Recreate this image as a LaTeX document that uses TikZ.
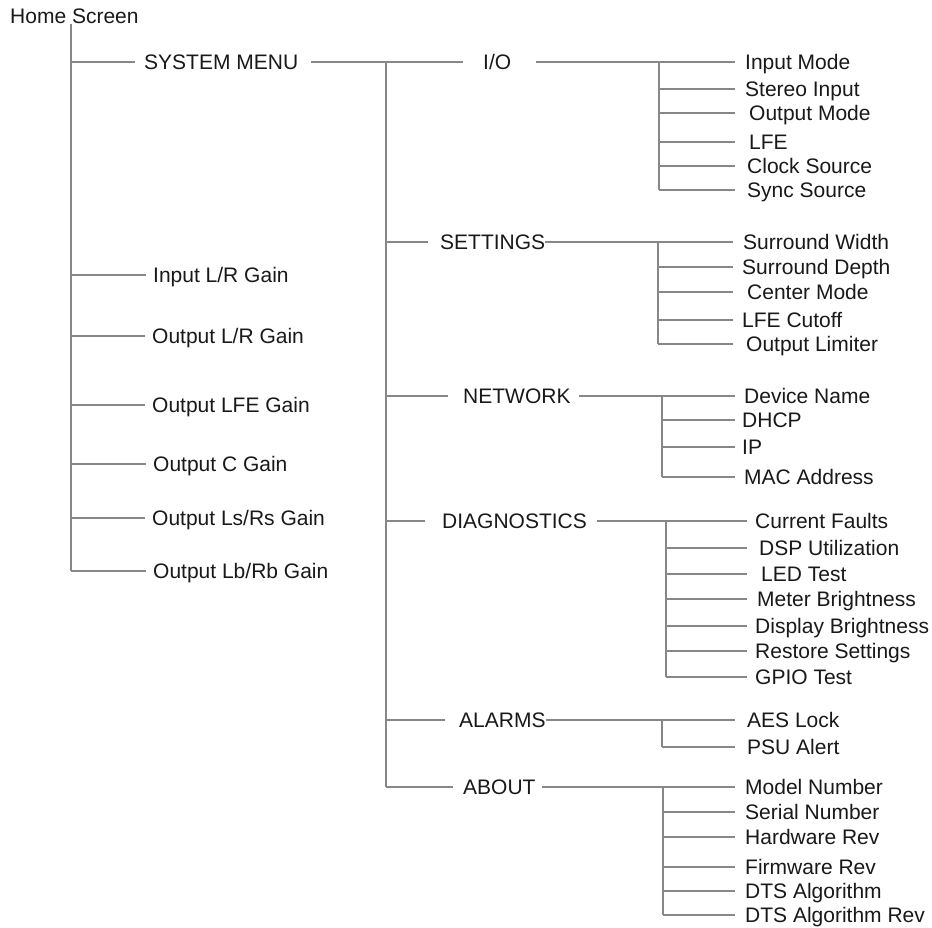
\documentclass[tikz,border=0pt]{standalone}
\usepackage{fontspec}
\setmainfont{Liberation Sans}
\definecolor{linegray}{RGB}{135,135,135}
\definecolor{txt}{RGB}{25,25,25}
\begin{document}
\begin{tikzpicture}[x=1pt,y=-1pt,
  lbl/.style={anchor=west,inner xsep=0pt,inner ysep=0pt,text height=15pt,text depth=0pt,
    text=txt,font=\fontsize{21pt}{25pt}\selectfont},
  conn/.style={draw=linegray,line width=1.3pt}]
\useasboundingbox (0,0) rectangle (932,927);
\fill[white] (0,0) rectangle (932,927);

% ---- level 0/1
\node[lbl] (home) at (10,16) {Home Screen};
\coordinate (v1) at (71,24);
\node[lbl] (sys)  at (144,62) {SYSTEM MENU};
\node[lbl] (inlr) at (153,275) {Input L/R Gain};
\node[lbl] (outlr) at (152,336) {Output L/R Gain};
\node[lbl] (outlfe) at (152,405) {Output LFE Gain};
\node[lbl] (outc) at (153,464) {Output C Gain};
\node[lbl] (outls) at (152,518) {Output Ls/Rs Gain};
\node[lbl] (outlb) at (153,571) {Output Lb/Rb Gain};

\draw[conn] (v1) -- (v1 |- outlb);
\draw[conn] (v1 |- sys) -- ([xshift=-9pt]sys.west);
\foreach \n in {inlr,outlr,outlfe,outc,outls,outlb}
  \draw[conn] (v1 |- \n) -- ([xshift=-7pt]\n.west);

% ---- level 2
\coordinate (v2) at (386,62);
\node[lbl] (io)   at (483,62)  {I/O};
\node[lbl] (set)  at (440,242) {SETTINGS};
\node[lbl] (net)  at (463,396) {NETWORK};
\node[lbl] (diag) at (442,521) {DIAGNOSTICS};
\node[lbl] (alm)  at (459,720) {ALARMS};
\node[lbl] (abt)  at (463,787) {ABOUT};

\draw[conn] ([xshift=13pt]sys.east) -- (v2);
\draw[conn] (v2) -- (v2 |- abt);
\draw[conn] (v2 |- io)   -- ([xshift=-20pt]io.west);
\draw[conn] (v2 |- set)  -- ([xshift=-12pt]set.west);
\draw[conn] (v2 |- net)  -- ([xshift=-15pt]net.west);
\draw[conn] (v2 |- diag) -- ([xshift=-17pt]diag.west);
\draw[conn] (v2 |- alm)  -- ([xshift=-14pt]alm.west);
\draw[conn] (v2 |- abt)  -- ([xshift=-10pt]abt.west);

% ---- I/O
\coordinate (ioV) at (659,62); \coordinate (ioE) at (735,62);
\node[lbl] (im)  at (745,62)  {Input Mode};
\node[lbl] (st)  at (745,89)  {Stereo Input};
\node[lbl] (om)  at (749,113) {Output Mode};
\node[lbl] (lfe) at (749,142) {LFE};
\node[lbl] (cs)  at (747,166) {Clock Source};
\node[lbl] (ss)  at (747,190) {Sync Source};
\draw[conn] ([xshift=25pt]io.east) -- (ioE);
\draw[conn] (ioV) -- (ioV |- ss);
\foreach \n in {st,om,lfe,cs,ss} \draw[conn] (ioV |- \n) -- (ioE |- \n);

% ---- SETTINGS
\coordinate (setV) at (658,242); \coordinate (setE) at (733,242);
\node[lbl] (sw) at (743,242) {Surround Width};
\node[lbl] (sd) at (742,267) {Surround Depth};
\node[lbl] (cm) at (747,292) {Center Mode};
\node[lbl] (lc) at (742,320) {LFE Cutoff};
\node[lbl] (ol) at (746,344) {Output Limiter};
\draw[conn] (set.east) -- (setE);
\draw[conn] (setV) -- (setV |- ol);
\foreach \n in {sd,cm,lc,ol} \draw[conn] (setV |- \n) -- (setE |- \n);

% ---- NETWORK
\coordinate (netV) at (662,396); \coordinate (netE) at (735,396);
\node[lbl] (dn)  at (744,396) {Device Name};
\node[lbl] (dh)  at (742,420) {DHCP};
\node[lbl] (ip)  at (742,447) {IP};
\node[lbl] (mac) at (744,477) {MAC Address};
\draw[conn] ([xshift=8pt]net.east) -- (netE);
\draw[conn] (netV) -- (netV |- mac);
\foreach \n in {dh,ip,mac} \draw[conn] (netV |- \n) -- (netE |- \n);

% ---- DIAGNOSTICS
\coordinate (diaV) at (666,521); \coordinate (diaE) at (747,521);
\node[lbl] (cf)   at (755,521) {Current Faults};
\node[lbl] (dsp)  at (759,548) {DSP Utilization};
\node[lbl] (led)  at (761,574) {LED Test};
\node[lbl] (mb)   at (757,599) {Meter Brightness};
\node[lbl] (db)   at (755,626) {Display Brightness};
\node[lbl] (rs)   at (755,651) {Restore Settings};
\node[lbl] (gpio) at (755,677) {GPIO Test};
\draw[conn] ([xshift=10pt]diag.east) -- (diaE);
\draw[conn] (diaV) -- (diaV |- gpio);
\foreach \n in {dsp,led,mb,db,rs,gpio} \draw[conn] (diaV |- \n) -- (diaE |- \n);

% ---- ALARMS
\coordinate (almV) at (662,720); \coordinate (almE) at (735,720);
\node[lbl] (aes) at (747,720) {AES Lock};
\node[lbl] (psu) at (747,747) {PSU Alert};
\draw[conn] (alm.east) -- (almE);
\draw[conn] (almV) -- (almV |- psu);
\draw[conn] (almV |- psu) -- (almE |- psu);

% ---- ABOUT
\coordinate (abV) at (663,787); \coordinate (abE) at (735,787);
\node[lbl] (mn)   at (745,787) {Model Number};
\node[lbl] (sn)   at (745,812) {Serial Number};
\node[lbl] (hr)   at (745,837) {Hardware Rev};
\node[lbl] (fr)   at (745,867) {Firmware Rev};
\node[lbl] (dts)  at (745,891) {DTS Algorithm};
\node[lbl] (dtsr) at (745,915) {DTS Algorithm Rev};
\draw[conn] ([xshift=6pt]abt.east) -- (abE);
\draw[conn] (abV) -- (abV |- dtsr);
\foreach \n in {sn,hr,fr,dts,dtsr} \draw[conn] (abV |- \n) -- (abE |- \n);
\end{tikzpicture}
\end{document}
